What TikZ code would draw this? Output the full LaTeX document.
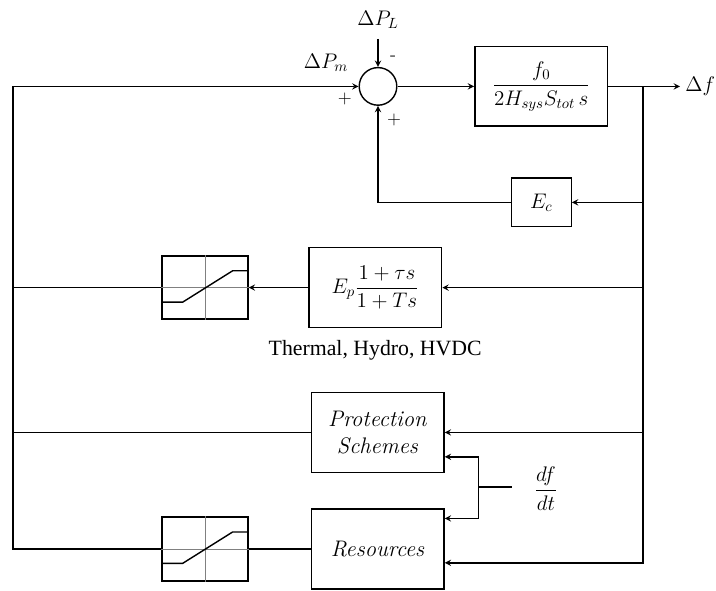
\documentclass[tikz,border=0pt]{standalone}
\usepackage{fix-cm}
\usepackage{amsmath}
\usepackage{fontspec}
\newfontfamily\notefont{Liberation Serif}
\usetikzlibrary{
		calc,
		positioning
	}
\tikzset{
		>=stealth,
		thick/.style={line width=1pt},
		every node/.style={font=\fontsize{15}{18}\selectfont},
		block/.style={draw,thick,minimum width=3.32cm,minimum height=2cm,inner sep=0pt},
		satblock/.style={draw,thick,minimum width=2.15cm,minimum height=1.58cm,inner sep=0pt},
		sign/.style={font=\fontsize{13}{15}\selectfont}
	}

\begin{document}
\begin{tikzpicture}
\useasboundingbox (0,0) rectangle (17.9,14.75);

\node[circle,draw,thick,minimum size=0.94cm,inner sep=0pt] (sum) at (9.45,12.59) {};
\node[block,minimum height=1.98cm] (main) at (13.53,12.59) {$\dfrac{f_0}{2H_{sys}S_{tot}\,s}$};
\node[block,minimum width=1.5cm,minimum height=1.22cm] (ec) at (13.53,9.69) {$E_c$};
\node[block] (ep) at (9.38,7.56) {$E_p\dfrac{1+\tau s}{1+Ts}$};
\node[satblock] (sat1) at (5.125,7.56) {};
\node[block,align=center,font=\fontsize{16}{19}\selectfont] (prot) at (9.44,3.94) {\textit{Protection}\\\textit{Schemes}};
\node[block,font=\fontsize{16}{19}\selectfont] (res) at (9.44,1.03) {\textit{Resources}};
\node[satblock,minimum height=1.6cm] (sat2) at (5.125,1.03) {};

\node (dPL) at (9.45,14.25) {$\Delta P_L$};
\node (dPm) at (8.15,13.18) {$\Delta P_m$};
\node[anchor=west,inner sep=0pt] (df) at (17.13,12.59) {$\Delta f$};
\node (dfdt) at (13.65,2.53) {$\dfrac{df}{dt}$};
\node[font=\notefont\fontsize{15.5}{18}\selectfont] (note) at (9.38,6.0) {Thermal, Hydro, HVDC};
\node[sign] (p1) at (8.62,12.27) {$+$};
\node[sign] (m1) at (9.83,13.29) {-};
\node[sign] (p2) at (9.85,11.75) {$+$};

\coordinate (lin) at (9.45,13.78);
\coordinate (ltop) at (0.32,12.59);
\coordinate (rtop) at (16.07,12.59);
\coordinate (dftip) at (17.0,12.59);
\coordinate (djn) at (11.96,2.57);
\coordinate (dstub) at (12.79,2.57);

% saturation blocks
\foreach \s in {sat1,sat2} {
  \draw[gray,thin] (\s.north) -- (\s.south);
  \draw[gray,thin] (\s.west) -- (\s.east);
  \draw[thick] ($(\s.center)+(-1.075,-0.365)$) -- ($(\s.center)+(-0.56,-0.365)$)
    -- ($(\s.center)+(0.69,0.42)$) -- ($(\s.center)+(1.075,0.42)$);
}

\draw[thick,->] (lin) -- (sum.north);
\draw[thick,->] (sum.east) -- (main.west);
\draw[thick,->] (main.east) -- (dftip);
\draw[thick,->] (ec.west) -| (sum.south);
\draw[thick,->] (ep.west) -- (sat1.east);
\draw[thick] (res.west) -- (sat2.east);

\draw[thick,->] (sat2.west) -| (ltop) -- (sum.west);
\draw[thick] (sat1.west) -- (sat1.west -| ltop);
\draw[thick] (prot.west) -- (prot.west -| ltop);

\draw[thick,->] (rtop) |- ([yshift=-0.35cm]res.east);
\draw[thick,->] (ec.east -| rtop) -- (ec.east);
\draw[thick,->] (ep.east -| rtop) -- (ep.east);
\draw[thick,->] (prot.east -| rtop) -- (prot.east);

\draw[thick] (dstub) -- (djn);
\draw[thick,->] (djn) |- ([yshift=-0.61cm]prot.east);
\draw[thick,->] (djn) |- ([yshift=0.76cm]res.east);
\end{tikzpicture}
\end{document}
